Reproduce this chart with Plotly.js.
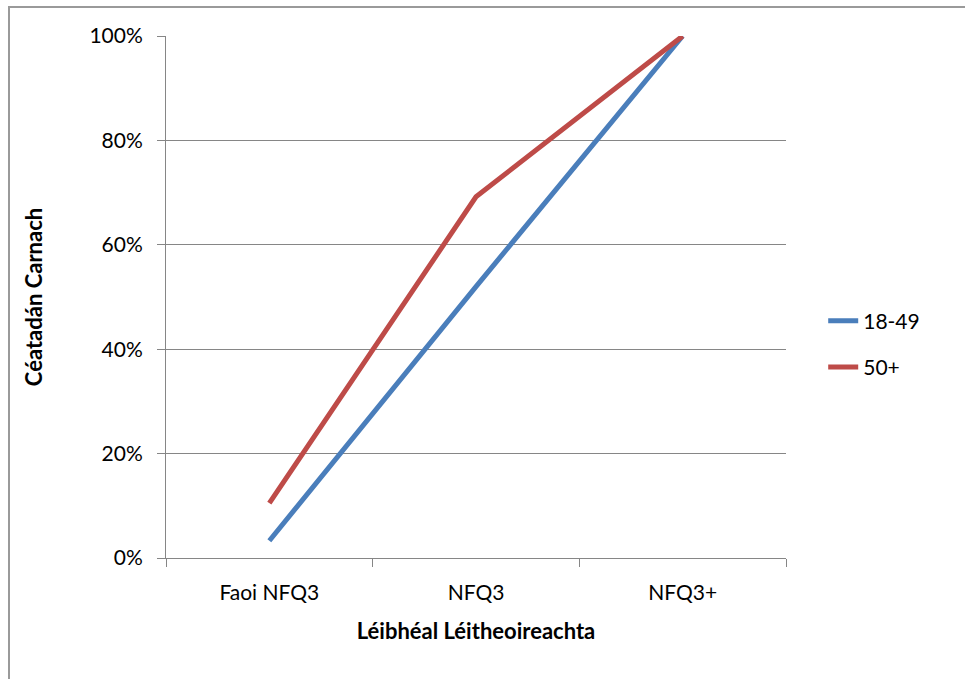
<!DOCTYPE html>
<html>
<head>
<meta charset="utf-8">
<script src="https://cdn.plot.ly/plotly-3.0.1.min.js"></script>
<style>
html,body{margin:0;padding:0;background:#fff;}
#frame{position:absolute;left:8px;top:6px;width:1000px;height:700px;border-left:2px solid #9a9a9a;border-top:2px solid #9a9a9a;}
#chart{position:absolute;left:0;top:0;width:965px;height:679px;}
</style>
</head>
<body>
<div id="frame"></div>
<div id="chart"></div>
<script>
const categories = ["Faoi NFQ3", "NFQ3", "NFQ3+"];
const seriesNames = ["18-49", "50+"];
const values1849 = [0.033, 0.52, 1.0];
const values50 = [0.105, 0.692, 1.0];
const yTickVals = [0, 0.2, 0.4, 0.6, 0.8, 1.0];

const font = "Lato, 'Open Sans', sans-serif";

const traces = [
  {x: categories, y: values1849, name: seriesNames[0], legendgroup: "g1", type: "scatter", mode: "lines",
   line: {color: "#4a7ebb", width: 5}},
  {x: categories, y: values50, name: seriesNames[1], legendgroup: "g2", type: "scatter", mode: "lines",
   line: {color: "#be4b48", width: 5}}
];

const layout = {
  width: 965, height: 679,
  margin: {l: 166, r: 179, t: 36, b: 121},
  paper_bgcolor: "rgba(0,0,0,0)",
  plot_bgcolor: "rgba(0,0,0,0)",
  font: {family: font, size: 21, color: "#000"},
  showlegend: true,
  legend: {x: 1.06, y: 0.41, xanchor: "left", yanchor: "middle", traceorder: "grouped",
           font: {family: font, size: 21, color: "#000"}, tracegroupgap: 16},
  xaxis: {
    type: "category", range: [-0.5, 2.5], tickson: "boundaries", ticks: "outside", ticklen: 8,
    tickcolor: "#868686", showgrid: false, showline: true, linecolor: "#868686", linewidth: 1,
    tickfont: {family: font, size: 21}, zeroline: false, ticklabelstandoff: 16,
    title: {text: "<b>Léibhéal Léitheoireachta</b>", font: {family: font, size: 22}, standoff: 20}
  },
  yaxis: {
    range: [0, 1], tickvals: yTickVals, tickformat: ".0%", ticks: "outside", ticklen: 8,
    tickcolor: "#868686", showgrid: true, gridcolor: "#868686", gridwidth: 1,
    showline: true, linecolor: "#868686", linewidth: 1, zeroline: false,
    tickfont: {family: font, size: 21}, ticklabelstandoff: 10,
    title: {text: "<b>Céatadán Carnach</b>", font: {family: font, size: 22}, standoff: 40}
  }
};

Plotly.newPlot("chart", traces, layout, {displayModeBar: false, staticPlot: true});
</script>
</body>
</html>
